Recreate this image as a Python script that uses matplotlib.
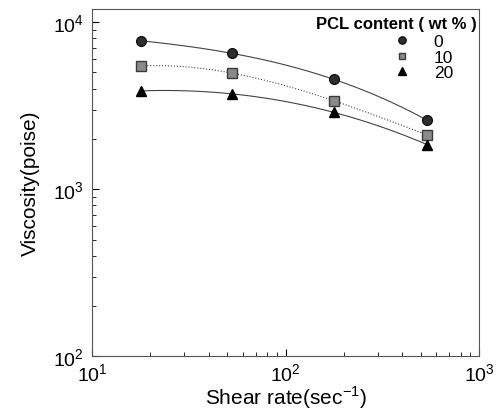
import matplotlib.pyplot as plt
from matplotlib.lines import Line2D
import numpy as np

plt.rcParams['font.family'] = ['Liberation Sans', 'DejaVu Sans']

shear_rate = [18, 53, 178, 537]
visc_0 = [7730, 6500, 4540, 2590]
visc_10 = [5475, 4950, 3380, 2115]
visc_20 = [3880, 3720, 2880, 1850]
labels = ['0', '10', '20']


def smooth_curve(x, y):
    lx, ly = np.log10(x), np.log10(y)
    coef = np.polyfit(lx, ly, 3)
    xs = np.linspace(lx[0], lx[-1], 100)
    return 10 ** xs, 10 ** np.polyval(coef, xs)


fig = plt.figure(figsize=(5.01, 4.14), dpi=100)
ax = fig.add_axes([0.1836, 0.137, 0.7731, 0.839])

styles = [
    (visc_0, dict(marker='o', color='#2e2e2e', markersize=7,
                  markeredgecolor='#111111'), '-'),
    (visc_10, dict(marker='s', color='#8a8a8a', markersize=6.5,
                   markeredgecolor='#3a3a3a'), ':'),
    (visc_20, dict(marker='^', color='black', markersize=7.5), '-'),
]

handles = []
for (vals, mkw, ls), lab in zip(styles, labels):
    cx, cy = smooth_curve(shear_rate, vals)
    ax.plot(cx, cy, ls, color='#444444', linewidth=0.8)
    ax.plot(shear_rate, vals, linestyle='none', **mkw)
    small = dict(mkw)
    small['markersize'] = mkw['markersize'] * 0.75
    handles.append(Line2D([], [], linestyle='none', label=lab, **small))

ax.set_xscale('log')
ax.set_yscale('log')
ax.set_xlim(10, 1000)
ax.set_ylim(100, 12000)

ax.tick_params(which='both', direction='in', top=False, right=False,
               labelsize=14)
ax.tick_params(which='major', length=5)
ax.tick_params(axis='x', which='major', pad=4)
ax.tick_params(axis='y', which='major', pad=6)
ax.tick_params(which='minor', length=3)
for sp in ax.spines.values():
    sp.set_linewidth(0.8)
    sp.set_color('#555555')

ax.set_xlabel('Shear rate(sec$^{\\mathregular{-1}}$)', fontsize=15, labelpad=0)
ax.set_ylabel('Viscosity(poise)', fontsize=15, labelpad=9)

fig.text(477 / 501, 1 - 25 / 414, 'PCL content ( wt % )', fontsize=12,
         fontweight='bold', ha='right', va='center')
ax.legend(handles=handles, loc='upper left', frameon=False, fontsize=12.5,
          bbox_to_anchor=(392 / 501, 1 - 35 / 414),
          bbox_transform=fig.transFigure,
          handlelength=1.2, handletextpad=1.2, labelspacing=0.02,
          borderpad=0, borderaxespad=0)

fig.savefig('out.png', dpi=100)
